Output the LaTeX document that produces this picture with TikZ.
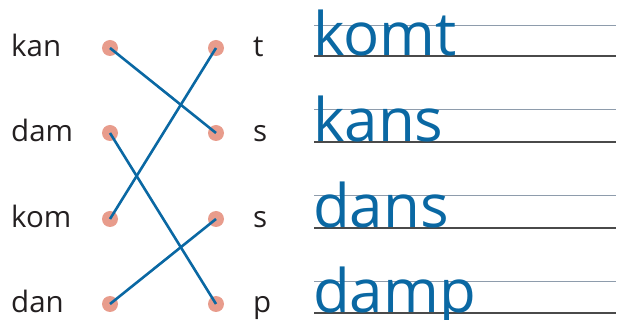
\documentclass[tikz,border=0pt]{standalone}
\usepackage{fontspec}
\setmainfont{Open Sans}
\definecolor{lineblue}{HTML}{0A68A3}
\definecolor{dotcol}{HTML}{E89C8C}
\definecolor{txt}{HTML}{231F20}
\definecolor{upline}{HTML}{8E9CAC}
\definecolor{lowline}{HTML}{4A4A4A}
\tikzset{
  dotnode/.style={circle, fill=dotcol, inner sep=0pt, minimum size=16pt},
  lbl/.style={anchor=base west, inner sep=0pt, text=txt, font=\fontsize{29.5}{31}\selectfont},
  word/.style={anchor=base west, inner sep=0pt, text=lineblue, font=\fontsize{60}{62}\selectfont},
  conn/.style={draw=lineblue, line width=2.6pt},
  upper/.style={draw=upline, line width=1pt},
  lower/.style={draw=lowline, line width=1.3pt}
}
\begin{document}
\begin{tikzpicture}[x=1pt,y=-1pt]
\useasboundingbox (0,0) rectangle (622,320);
% writing lines
\foreach \u/\l [count=\i] in {26/56, 110/142, 196/228, 282/313}{
  \coordinate (ua\i) at (314,\u); \coordinate (ub\i) at (616,\u);
  \coordinate (la\i) at (314,\l); \coordinate (lb\i) at (616,\l);
  \draw[upper] (ua\i) -- (ub\i);
  \draw[lower] (la\i) -- (lb\i);
}
% left labels
\node[lbl] (w1) at (11,57) {kan};
\node[lbl] (w2) at (11,142) {dam};
\node[lbl] (w3) at (11,228) {kom};
\node[lbl] (w4) at (11,313) {dan};
% right labels
\node[lbl] (e1) at (253,57) {t};
\node[lbl] (e2) at (253,142) {s};
\node[lbl] (e3) at (253,228) {s};
\node[lbl] (e4) at (253,313) {p};
% dots
\node[dotnode] (l1) at (110,48) {};
\node[dotnode] (l2) at (110,133) {};
\node[dotnode] (l3) at (110,219) {};
\node[dotnode] (l4) at (110,304) {};
\node[dotnode] (r1) at (216,48) {};
\node[dotnode] (r2) at (216,133) {};
\node[dotnode] (r3) at (216,219) {};
\node[dotnode] (r4) at (216,304) {};
% connectors
\draw[conn] (l1.center) -- (r2.center);
\draw[conn] (l2.center) -- (r4.center);
\draw[conn] (l3.center) -- (r1.center);
\draw[conn] (l4.center) -- (r3.center);
% answers
\node[word] (a1) at (313,56) {komt};
\node[word] (a2) at (313,142) {kans};
\node[word] (a3) at (313,228) {dans};
\node[word] (a4) at (313,313) {damp};
\end{tikzpicture}
\end{document}
